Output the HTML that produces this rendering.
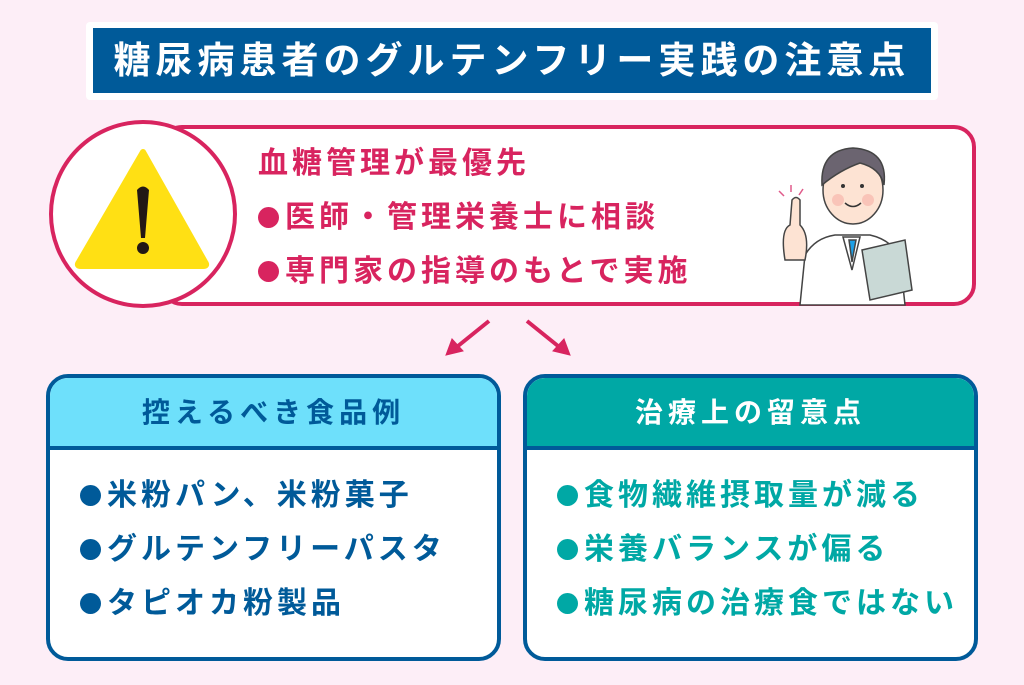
<!DOCTYPE html>
<html><head><meta charset="utf-8"><style>
*{margin:0;padding:0;box-sizing:border-box}
body{width:1024px;height:685px;background:#fdeef7;position:relative;overflow:hidden;font-family:"Liberation Sans","Noto Sans CJK JP",sans-serif;font-weight:bold}
.abs{position:absolute}
.title{left:86px;top:22px;width:852px;height:78px;background:#fff;border-radius:4px}
.title div{position:absolute;left:7px;top:6px;right:7px;bottom:7px;background:#005a99;color:#fff;font-size:37px;letter-spacing:5px;line-height:65px;text-align:center}
.top{left:160px;top:125px;width:816px;height:181px;background:#fff;border:4px solid #d8245f;border-radius:22px}
.circ{left:49px;top:120px;width:188px;height:188px;border-radius:50%;background:#fff;border:4px solid #d8245f}
.pk{color:#d8245f;font-size:30px;letter-spacing:4px;left:258px;white-space:nowrap}
.box{width:455px;height:287px;background:#fff;border:4px solid #005a99;border-radius:22px;overflow:hidden;top:374px}
.hd{height:72px;border-bottom:4px solid #005a99;font-size:28px;letter-spacing:5px;text-align:center;line-height:70px}
.li{position:absolute;left:30px;font-size:30px;letter-spacing:4px;white-space:nowrap}
.b{display:inline-block;width:21px;height:21px;border-radius:50%;background:currentColor;margin-right:6px;vertical-align:-1px}
</style></head><body>
<div class="abs title"><div>糖尿病患者のグルテンフリー実践の注意点</div></div>
<div class="abs top"></div>
<div class="abs circ"></div>
<svg class="abs" style="left:0;top:0" width="1024" height="685">
<path d="M143 152 L205 262 Q208 266 203 266 L81 266 Q76 266 79 262 Z" fill="#ffe014" stroke="#ffe014" stroke-width="6" stroke-linejoin="round"/>
<path d="M137 190 Q143 183 149 190 L145 238 L141 238 Z" fill="#231815"/>
<circle cx="143" cy="248" r="6" fill="#231815"/>
<g stroke="#d8245f" stroke-width="4" fill="#d8245f">
<line x1="489" y1="321" x2="458" y2="346"/><path d="M446 355 L452 339 L463 351 Z" stroke-width="1"/>
<line x1="527" y1="321" x2="558" y2="346"/><path d="M570 355 L564 339 L553 351 Z" stroke-width="1"/>
</g>
<g stroke="#444" stroke-width="1.5">
<path d="M800 305 L805 255 Q815 238 835 235 L870 235 Q892 240 900 258 L905 305 Z" fill="#fff"/>
<path d="M843 237 L852 270 L860 237 Z" fill="#fff"/>
<path d="M849 240 L852 262 L856 240 Z" fill="#1ea0e6"/>
<ellipse cx="853" cy="190" rx="30" ry="34" fill="#fde3d3"/>
<path d="M822 185 Q820 150 853 148 Q888 150 884 185 Q880 168 860 163 Q840 170 822 185 Z" fill="#6b6470"/>
<path d="M862 250 L905 240 L912 290 L870 300 Z" fill="#c9d9d6"/>
<path d="M785 260 Q780 230 790 225 L792 200 Q796 195 800 200 L800 225 Q810 235 805 260 Z" fill="#fde3d3"/>
</g>
<circle cx="838" cy="200" r="6" fill="#f9c4b8"/><circle cx="868" cy="200" r="6" fill="#f9c4b8"/>
<circle cx="843" cy="186" r="2" fill="#333"/><circle cx="862" cy="186" r="2" fill="#333"/>
<path d="M845 203 Q853 210 861 203" stroke="#333" stroke-width="1.5" fill="none"/>
<g stroke="#e05a8a" stroke-width="1.5"><line x1="779" y1="191" x2="784" y2="196"/><line x1="791" y1="185" x2="791" y2="192"/><line x1="803" y1="189" x2="799" y2="195"/></g>
</svg>
<div class="abs pk" style="top:138px">血糖管理が最優先</div>
<div class="abs pk" style="top:192px"><span class="b"></span>医師・管理栄養士に相談</div>
<div class="abs pk" style="top:246px"><span class="b"></span>専門家の指導のもとで実施</div>
<div class="abs box" style="left:46px">
<div class="hd" style="background:#6ee0fb;color:#005a99">控えるべき食品例</div>
<div class="li" style="top:92px;color:#005a99"><span class="b"></span>米粉パン、米粉菓子</div>
<div class="li" style="top:146px;color:#005a99"><span class="b"></span>グルテンフリーパスタ</div>
<div class="li" style="top:200px;color:#005a99"><span class="b"></span>タピオカ粉製品</div>
</div>
<div class="abs box" style="left:523px">
<div class="hd" style="background:#00a8a5;color:#fff">治療上の留意点</div>
<div class="li" style="top:92px;color:#00a8a5"><span class="b"></span>食物繊維摂取量が減る</div>
<div class="li" style="top:146px;color:#00a8a5"><span class="b"></span>栄養バランスが偏る</div>
<div class="li" style="top:200px;color:#00a8a5"><span class="b"></span>糖尿病の治療食ではない</div>
</div>
</body></html>
